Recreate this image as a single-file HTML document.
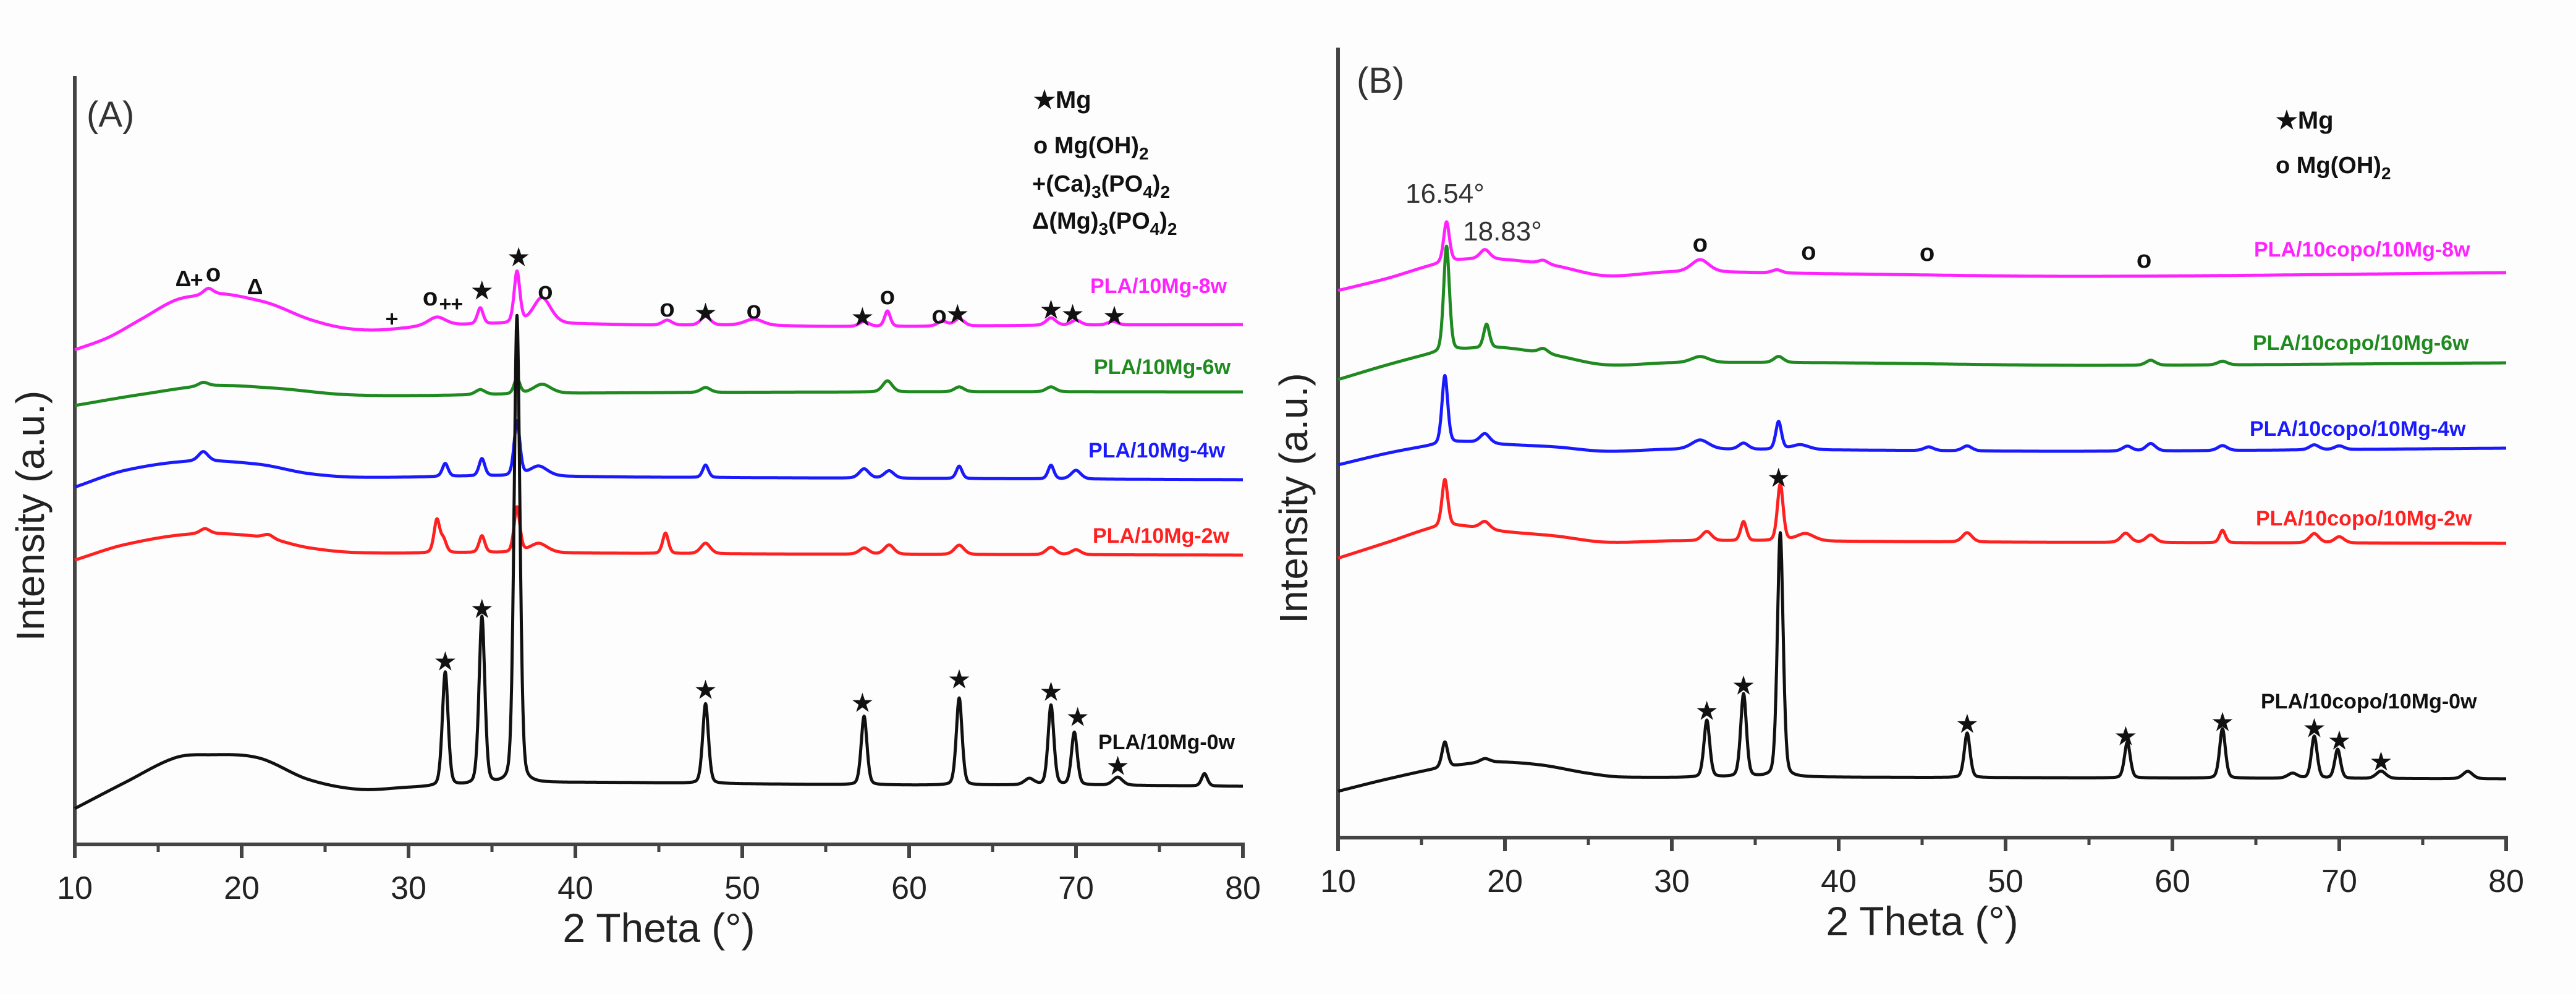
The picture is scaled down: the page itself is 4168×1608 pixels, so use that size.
<!DOCTYPE html>
<html><head><meta charset="utf-8"><style>
html,body{margin:0;padding:0;background:#fdfdfd;}
svg{display:block;font-family:"Liberation Sans",Arial,sans-serif;}
</style></head><body>
<svg id="fig" width="4168" height="1608" viewBox="0 0 4168 1608">
<rect x="0" y="0" width="4168" height="1608" fill="#fdfdfd"/>
<g id="gA"></g>
<g id="gB"></g>
</svg>
<script>
// ---- data ----
const xTicks = [10,20,30,40,50,60,70,80];
const xMinor = [15,25,35,45,55,65,75];
const aNames = ["PLA/10Mg-0w","PLA/10Mg-2w","PLA/10Mg-4w","PLA/10Mg-6w","PLA/10Mg-8w"];
const aColors = ["#111111","#ff2020","#1a1aff","#1f8a1f","#ff22ff"];
const a0BX=[10,13,16,18,21,24,27,30,33,40,50,60,70,80];
const a0BY=[58,100,140,145,140,105,89,92,95,100,98,96,96,94];
const a0PX=[32.2,34.4,36.5,47.8,57.3,63.0,67.2,68.5,69.9,72.5,77.7];
const a0PH=[184,271,757,129,111,141,10,129,85,13,20];
const a1BX=[10,13,17,21,24,27,35,50,80];
const a1BY=[460,485,502,498,480,472,472,470,468];
const a1PX=[17.8,21.6,31.7,32.1,34.4,36.5,37.8,45.4,47.8,57.3,58.8,63.0,68.5,70.0];
const a1PH=[8,6,53,20,27,73,15,33,17,10,15,15,12,8];
const a2BX=[10,13,17,21,24,27,35,45,80];
const a2BY=[578,605,620,615,600,594,596,594,590];
const a2PX=[17.7,32.2,34.4,36.5,37.8,47.8,57.3,58.8,63.0,68.5,70.0];
const a2PH=[15,21,28,88,16,20,15,12,20,22,14];
const a3BX=[10,14,18,22,26,30,40,60,80];
const a3BY=[710,728,742,738,728,726,730,732,732];
const a3PX=[17.7,34.3,36.5,38.0,47.8,58.7,63.0,68.5];
const a3PH=[6,8,25,15,8,18,8,8];
const a4BX=[10,12,14,16,17.5,19,21,22,24,26,28,31,35,40,45,50,55,60,70,80];
const a4BY=[800,820,850,880,888,890,880,872,850,836,832,838,842,842,840,840,838,838,840,841];
const a4PX=[18.0,31.7,34.3,36.5,38.0,45.5,47.8,50.7,57.3,58.7,62.0,63.0,68.5,70.0,72.2];
const a4PH=[10,14,26,83,42,8,14,10,8,25,8,12,12,8,6];
const bNames = ["PLA/10copo/10Mg-0w","PLA/10copo/10Mg-2w","PLA/10copo/10Mg-4w","PLA/10copo/10Mg-6w","PLA/10copo/10Mg-8w"];
const b0BX=[10,13,16,19,22,25,27,35,50,80];
const b0BY=[75,95,112,122,118,104,98,98,97,95];
const b0PX=[16.4,18.8,32.1,34.3,36.5,47.7,57.3,63.0,67.2,68.5,69.9,72.5,77.7];
const b0PH=[41,6,92,134,395,72,58,80,8,68,47,12,12];
const b1BX=[10,13,15.5,17,20,23,26,30,35,50,80];
const b1BY=[452,478,500,505,495,488,478,480,480,478,476];
const b1PX=[16.4,18.8,32.1,34.3,36.5,38.0,47.7,57.2,58.7,63.0,68.5,70.0];
const b1PH=[75,12,15,31,92,12,15,15,12,20,15,10];
const b2BX=[10,13,15.5,17.5,20,23,26,30,40,55,80];
const b2BY=[603,622,634,640,636,632,625,628,627,625,630];
const b2PX=[16.4,18.8,31.7,34.3,36.4,37.7,45.4,47.7,57.3,58.7,63.0,68.5,70.0];
const b2PH=[110,15,15,10,45,8,6,8,8,12,8,8,6];
const b3BX=[10,13,15.5,17.5,20,23,26,30,40,55,80];
const b3BY=[741,765,782,790,792,780,765,768,768,764,768];
const b3PX=[16.5,18.9,22.3,31.7,36.4,58.7,63.0];
const b3PH=[170,38,8,10,10,8,6];
const b4BX=[10,13,15.5,17.5,20,23,26,30,40,55,80];
const b4BY=[885,905,925,935,935,925,909,915,912,908,914];
const b4PX=[16.5,18.8,22.3,31.7,36.3];
const b4PH=[65,15,6,20,5];

const NS="http://www.w3.org/2000/svg";
function mk(tag,attrs,parent){const e=document.createElementNS(NS,tag);for(const k in attrs)e.setAttribute(k,attrs[k]);parent.appendChild(e);return e;}
function interp(bx,by,x){
  const n=bx.length;
  for(let i=0;i<n-1;i++){
    if(x<=bx[i+1]){
      const h=bx[i+1]-bx[i], t=(x-bx[i])/h;
      const m0=i>0?(by[i+1]-by[i-1])/(bx[i+1]-bx[i-1]):(by[i+1]-by[i])/h;
      const m1=i<n-2?(by[i+2]-by[i])/(bx[i+2]-bx[i]):(by[i+1]-by[i])/h;
      const t2=t*t,t3=t2*t;
      return (2*t3-3*t2+1)*by[i]+(t3-2*t2+t)*h*m0+(-2*t3+3*t2)*by[i+1]+(t3-t2)*h*m1;
    }
  }
  return by[n-1];
}
function widthFor(p,h){ if(Math.abs(p-38)<0.3||Math.abs(p-50.7)<0.3||Math.abs(p-31.7)<0.1&&h<25) return 0.55; if(h<20) return 0.3; return 0.18;}

function panel(g,x0,x1,yb,yt,label,names,colors,series,labelPos,labelSize){
  const X=v=>x0+(v-10)/70*(x1-x0);
  const Y=v=>yb-v;
  let e=mk("line",{x1:x0,y1:yt,x2:x0,y2:yb,stroke:"#444",'stroke-width':6},g);
  
  e=mk("line",{x1:x0-3,y1:yb,x2:x1+3,y2:yb,stroke:"#444",'stroke-width':6},g);
  
  xTicks.forEach(t=>{const l=mk("line",{x1:X(t),y1:yb,x2:X(t),y2:yb+22,stroke:"#444",'stroke-width':6},g);
    
    const tx=mk("text",{x:X(t),y:yb+88,'font-size':52,'text-anchor':'middle',fill:'#222'},g);tx.textContent=t;
    });
  xMinor.forEach(t=>{const l=mk("line",{x1:X(t),y1:yb,x2:X(t),y2:yb+12,stroke:"#444",'stroke-width':5},g);
    });
  let tt=mk("text",{x:(x0+x1)/2,y:yb+158,'font-size':66,'text-anchor':'middle',fill:'#222'},g);tt.textContent="2 Theta (°)";
  
  const yc=(yt+yb)/2+90;
  tt=mk("text",{x:x0-50,y:yc,'font-size':64,'text-anchor':'middle',fill:'#222',transform:`rotate(-90 ${x0-50} ${yc})`},g);tt.textContent="Intensity (a.u.)";
  
  tt=mk("text",{x:label[1],y:label[2],'font-size':58,fill:'#333'},g);tt.textContent=label[0];
  
  for(let s=series.length-1;s>=0;s--){
    const [bx,by,px,ph]=series[s];
    let d="";
    for(let x=10;x<=80.0001;x+=0.02){
      let v=interp(bx,by,x);
      for(let k=0;k<px.length;k++){const w=widthFor(px[k],ph[k]);const z=(x-px[k])/w;v+=ph[k]*(0.7*Math.exp(-z*z/2)+0.3/(1+z*z));}
      d+=(d?"L":"M")+X(x).toFixed(1)+","+Y(v).toFixed(1);
    }
    const p=mk("path",{d:d,fill:"none",stroke:colors[s],'stroke-width':5,'stroke-linejoin':'round'},g);
    
    
    const t=mk("text",{x:labelPos[s][0],y:labelPos[s][1],'font-size':labelSize,'font-weight':'bold',fill:colors[s]},g);
    t.textContent=names[s];
    
    
  }
  return X;
}
function ann(g,x,y,ch,size){const t=mk("text",{x:x,y:y,'font-size':size,'text-anchor':'middle',fill:'#111','font-weight':'bold'},g);t.textContent=ch;
  }

const gA=document.getElementById('gA'), gB=document.getElementById('gB');
const XA=panel(gA,121,2011,1366,123,["(A)",140,205],aNames,aColors,
  [[a0BX,a0BY,a0PX,a0PH],[a1BX,a1BY,a1PX,a1PH],[a2BX,a2BY,a2PX,a2PH],[a3BX,a3BY,a3PX,a3PH],[a4BX,a4BY,a4PX,a4PH]],
  [[1777,1212],[1768,878],[1761,740],[1770,605],[1764,474]],34);
const XB=panel(gB,2165,4055,1355,77,["(B)",2195,150],bNames,aColors,
  [[b0BX,b0BY,b0PX,b0PH],[b1BX,b1BY,b1PX,b1PH],[b2BX,b2BY,b2PX,b2PH],[b3BX,b3BY,b3PX,b3PH],[b4BX,b4BY,b4PX,b4PH]],
  [[3658,1146],[3650,850],[3640,705],[3645,566],[3647,415]],34);

const aStarX=[36.6,34.4,47.8,57.2,62.9,68.5,69.8,72.3, 32.2,34.4,47.8,57.2,63.0,68.5,70.1,72.5];
const aStarY=[413,467,503,510,505,498,505,508, 1067,982,1113,1134,1096,1116,1157,1236];
aStarX.forEach((x,i)=>ann(gA,XA(x),aStarY[i]+16,"★",38));
const aCircX=[18.3,31.3,38.2,45.5,50.7,58.7,61.8];
const aCircY=[443,482,472,500,503,480,511];
aCircX.forEach((x,i)=>ann(gA,XA(x),aCircY[i]+12,"o",40));
ann(gA,XA(16.5),463,"Δ",36);ann(gA,XA(17.3),465,"+",36);ann(gA,XA(20.8),476,"Δ",36);
ann(gA,XA(29),528,"+",36);ann(gA,XA(32.2),503,"+",34);ann(gA,XA(32.9),503,"+",34);
let t=mk("text",{x:1672,y:175,'font-size':40,'font-weight':'bold',fill:'#111'},gA);t.textContent="★Mg";

t=mk("text",{x:1672,y:248,'font-size':38,'font-weight':'bold',fill:'#111'},gA);t.innerHTML='o Mg(OH)<tspan font-size="28" dy="10">2</tspan>';

t=mk("text",{x:1670,y:310,'font-size':38,'font-weight':'bold',fill:'#111'},gA);t.innerHTML='+(Ca)<tspan font-size="28" dy="10">3</tspan><tspan dy="-10">(PO</tspan><tspan font-size="28" dy="10">4</tspan><tspan dy="-10">)</tspan><tspan font-size="28" dy="10">2</tspan>';

t=mk("text",{x:1670,y:370,'font-size':38,'font-weight':'bold',fill:'#111'},gA);t.innerHTML='Δ(Mg)<tspan font-size="28" dy="10">3</tspan><tspan dy="-10">(PO</tspan><tspan font-size="28" dy="10">4</tspan><tspan dy="-10">)</tspan><tspan font-size="28" dy="10">2</tspan>';


const bStarX=[36.4,32.1,34.3,47.7,57.2,63.0,68.5,70.0,72.5];
const bStarY=[770,1147,1106,1168,1188,1165,1175,1195,1229];
bStarX.forEach((x,i)=>ann(gB,XB(x),bStarY[i]+16,"★",38));
const bCircX=[31.7,38.2,45.3,58.3];
const bCircY=[395,408,410,421];
bCircX.forEach((x,i)=>ann(gB,XB(x),bCircY[i]+12,"o",40));
t=mk("text",{x:2338,y:328,'font-size':44,'text-anchor':'middle',fill:'#333'},gB);t.textContent="16.54°";

t=mk("text",{x:2431,y:389,'font-size':44,'text-anchor':'middle',fill:'#333'},gB);t.textContent="18.83°";

t=mk("text",{x:3682,y:208,'font-size':40,'font-weight':'bold',fill:'#111'},gB);t.textContent="★Mg";

t=mk("text",{x:3682,y:280,'font-size':38,'font-weight':'bold',fill:'#111'},gB);t.innerHTML='o Mg(OH)<tspan font-size="28" dy="10">2</tspan>';

</script>
</body></html>
